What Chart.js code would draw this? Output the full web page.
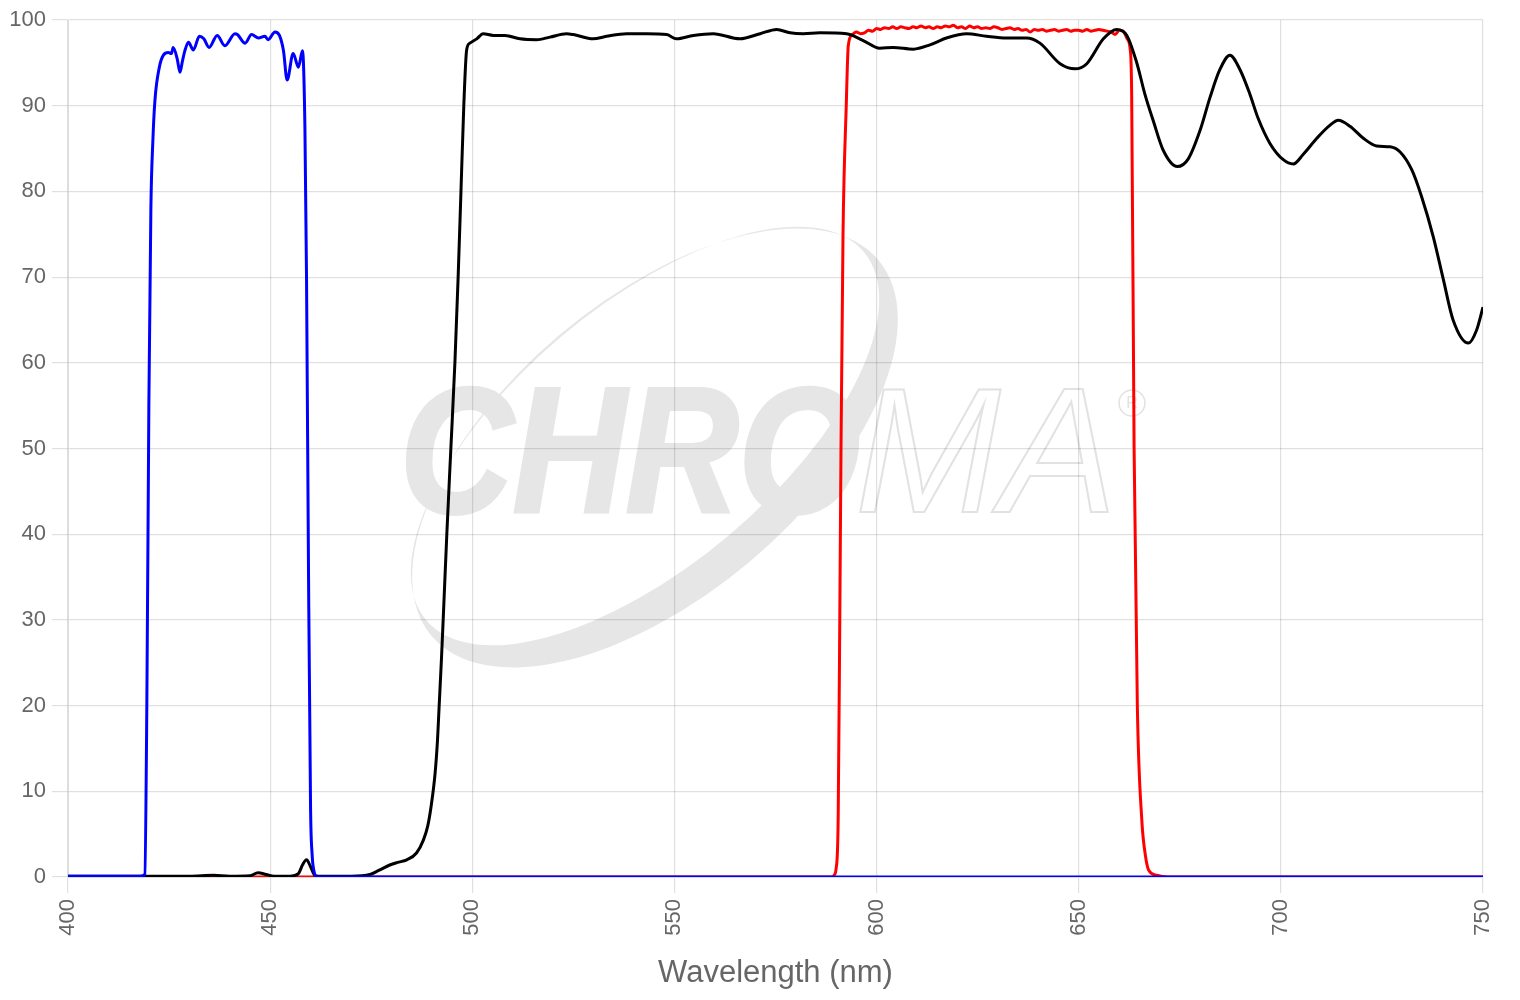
<!DOCTYPE html>
<html>
<head>
<meta charset="utf-8">
<script src="https://cdn.jsdelivr.net/npm/chart.js@4/dist/chart.umd.min.js"></script>
<style>
  html, body { margin: 0; padding: 0; background: #fff; }
  #wrap { width: 1520px; height: 1000px; position: relative; }
</style>
</head>
<body>
<div id="wrap"><canvas id="c" width="1520" height="1000"></canvas></div>
<script>
// ---- Data ----
const xTicks = [400, 450, 500, 550, 600, 650, 700, 750];
const yTicks = [0, 10, 20, 30, 40, 50, 60, 70, 80, 90, 100];

// Exciter (blue)
const blueNm = [400, 405, 410, 415, 418, 419, 419.5, 420, 420.5, 421, 421.5, 422.6, 423.6, 424.8, 425.6, 426.0, 427.0, 427.7, 428.3, 428.9, 429.8, 431.0, 432.5, 433.6, 434.9, 436.9, 438.8, 441.3, 441.9, 443.8, 445.4, 447.1, 448.7, 449.5, 451.2, 452.3, 453.3, 454.2, 455.7, 457.0, 458.0, 458.6, 459.0, 459.5, 460.0, 460.4, 460.8, 461.5, 470, 500, 550, 600, 650, 700, 750];
const blueT  = [0.1, 0.1, 0.1, 0.1, 0.1, 0.3, 20, 55, 78, 86, 90.6, 94.5, 95.9, 96.2, 96.1, 96.8, 95.5, 93.9, 95.2, 96.4, 97.4, 96.5, 98.1, 97.8, 96.8, 98.2, 97.0, 98.4, 98.3, 97.3, 98.3, 97.9, 98.1, 97.7, 98.6, 98.2, 96.4, 93.0, 96.1, 94.5, 96.4, 87.5, 70, 35, 8, 2.5, 0.8, 0, 0, 0, 0, 0, 0, 0, 0];

// Dichroic (black)
const blackNm = [400, 410, 420, 430, 436, 440, 445, 447, 449, 451, 455, 457, 458, 459, 460, 461, 462, 470, 474.7, 477, 479.6, 481.5, 483.8, 486.2, 487.9, 489, 489.8, 490.8, 491.4, 491.8, 492.4, 492.8, 493.7, 494.7, 495.7, 496.5, 497.2, 497.9, 498.6, 499.4, 501.1, 502.7, 505.2, 508.1, 511.8, 515.9, 519.2, 523.3, 525.0, 529.9, 533.2, 538.2, 543.1, 548.1, 550.5, 554.7, 559.6, 566.2, 571.2, 575.3, 578.6, 581.9, 586.0, 592.6, 596.7, 600.8, 604.1, 609.1, 613.2, 617.3, 622.3, 627.2, 632.2, 637.1, 640.4, 645.4, 649.1, 652.0, 656.1, 659.4, 661.9, 664.3, 666.4, 668.4, 670.9, 674.4, 677.1, 680.0, 682.5, 684.9, 687.4, 689.9, 692.3, 694.4, 697.3, 700.6, 703.1, 705.5, 708.9, 712.1, 714.2, 717.1, 720.4, 723.7, 727.0, 729.5, 732.4, 734.8, 737.7, 740.2, 742.6, 746.4, 748.4, 750];
const blackT  = [0.1, 0.1, 0.1, 0.1, 0.2, 0.1, 0.15, 0.5, 0.3, 0.1, 0.1, 0.4, 1.4, 2.0, 1.2, 0.2, 0.1, 0.1, 0.3, 0.8, 1.4, 1.7, 2.0, 2.8, 4.3, 6.0, 8.2, 12.1, 16.0, 19.9, 25.7, 30, 40, 50, 60, 70, 80, 90, 96.5, 97.3, 97.8, 98.4, 98.2, 98.2, 97.8, 97.7, 98.0, 98.4, 98.3, 97.8, 98.1, 98.4, 98.4, 98.3, 97.8, 98.2, 98.4, 97.8, 98.4, 98.9, 98.5, 98.4, 98.5, 98.4, 97.6, 96.7, 96.8, 96.6, 97.1, 97.9, 98.4, 98.1, 97.9, 97.9, 97.3, 94.9, 94.3, 94.9, 97.8, 98.9, 98.2, 95.1, 91.3, 88.3, 84.8, 82.9, 83.8, 87.1, 91.0, 94.2, 95.9, 94.2, 91.4, 88.5, 85.6, 83.7, 83.2, 84.3, 86.2, 87.7, 88.3, 87.6, 86.2, 85.3, 85.2, 84.6, 82.5, 79.4, 74.7, 69.7, 65.0, 62.3, 63.8, 66.5];

// Emitter (red)
const redNm = [400, 450, 500, 550, 589, 589.5, 590, 590.5, 590.9, 591.2, 591.7, 592.5, 593, 594, 595, 596, 597, 598, 599, 600, 601, 602, 603, 604, 605, 606, 607, 608, 609, 610, 611, 612, 613, 614, 615, 616, 617, 618, 619, 620, 621, 622, 623, 624, 625, 626, 627, 628, 629, 630, 631, 632, 633, 634, 635, 636, 637, 638, 639, 640, 641, 642, 643, 644, 645, 646, 647, 648, 649, 650, 651, 652, 653, 654, 655, 656, 657, 658, 659, 660, 661, 662, 662.7, 663.1, 663.7, 664.5, 665.6, 666.5, 667.3, 669.3, 672, 700, 750];
const redT  = [0, 0, 0, 0, 0, 0.2, 1, 6.7, 30, 50, 75, 90, 97, 98.3, 98.6, 98.4, 98.5, 98.8, 98.7, 99.0, 98.9, 99.1, 99.0, 99.2, 99.0, 99.2, 99.1, 99.0, 99.2, 99.1, 99.3, 99.1, 99.2, 99.0, 99.2, 99.1, 99.3, 99.2, 99.4, 99.1, 99.2, 99.0, 99.3, 99.1, 99.2, 99.0, 99.1, 99.0, 99.2, 99.1, 98.9, 99.0, 99.1, 98.9, 99.0, 98.8, 98.9, 98.6, 98.9, 98.8, 98.9, 98.7, 98.8, 98.9, 98.7, 98.8, 98.9, 98.7, 98.8, 98.8, 98.7, 98.9, 98.7, 98.8, 98.9, 98.8, 98.7, 98.6, 98.3, 98.8, 98.7, 97.8, 96.7, 91.3, 50, 20, 6.7, 2.5, 0.8, 0.2, 0, 0, 0];

const xTitle = 'Wavelength (nm)';

// ---- Build datasets ----
function pts(xs, ys) { return xs.map((x, i) => ({ x: x, y: ys[i] })); }

const watermark = {
  id: 'watermark',
  beforeDraw(chart) {
    const ctx = chart.ctx;
    ctx.save();
    // swoosh ring
    ctx.fillStyle = '#e6e6e6';
    ctx.beginPath();
    ctx.ellipse(655, 448, 292, 148, -0.70, 0, Math.PI * 2);
    ctx.ellipse(645, 436, 286, 130, -0.70, 0, Math.PI * 2);
    ctx.fill('evenodd');
    // text
    ctx.font = 'italic bold 178px "Liberation Sans", Arial, sans-serif';
    ctx.textBaseline = 'alphabetic';
    const w1 = ctx.measureText('CHRO').width;
    ctx.translate(400, 512);
    ctx.scale(460 / w1, 1);
    ctx.fillStyle = '#e6e6e6';
    ctx.fillText('CHRO', 0, 0);
    ctx.lineWidth = 4;
    ctx.strokeStyle = '#e6e6e6';
    ctx.strokeText('CHRO', 0, 0);
    ctx.restore();
    ctx.save();
    ctx.font = 'italic 178px "Liberation Sans", Arial, sans-serif';
    const w2 = ctx.measureText('MA').width;
    ctx.translate(855, 512);
    ctx.scale(262 / w2, 1);
    ctx.strokeStyle = '#e2e2e2';
    ctx.lineWidth = 2;
    ctx.strokeText('MA', 0, 0);
    ctx.restore();
    ctx.save();
    ctx.strokeStyle = '#e2e2e2';
    ctx.lineWidth = 1.5;
    ctx.beginPath();
    ctx.arc(1132, 403, 13, 0, Math.PI * 2);
    ctx.stroke();
    ctx.fillStyle = '#e2e2e2';
    ctx.font = '16px "Liberation Sans", Arial, sans-serif';
    ctx.textAlign = 'center';
    ctx.textBaseline = 'middle';
    ctx.fillText('R', 1132, 404);
    ctx.restore();
  }
};

const tickFont = { family: '"Liberation Sans", Arial, sans-serif', size: 22 };
const gridColor = 'rgba(0,0,0,0.12)';

new Chart(document.getElementById('c'), {
  type: 'line',
  data: {
    datasets: [
      { label: 'Exciter', data: pts(blueNm, blueT), borderColor: '#0000ff', borderWidth: 3, pointRadius: 0, cubicInterpolationMode: 'monotone', order: 1 },
      { label: 'Dichroic', data: pts(blackNm, blackT), borderColor: '#000000', borderWidth: 3, pointRadius: 0, cubicInterpolationMode: 'monotone', order: 2 },
      { label: 'Emitter', data: pts(redNm, redT), borderColor: '#ff0000', borderWidth: 3, pointRadius: 0, cubicInterpolationMode: 'monotone', order: 3 }
    ]
  },
  options: {
    responsive: false,
    animation: false,
    layout: { padding: { top: 20, right: 37, left: 0, bottom: 0 } },
    plugins: { legend: { display: false }, tooltip: { enabled: false } },
    scales: {
      x: {
        type: 'linear', min: 400, max: 750,
        afterBuildTicks: (s) => { s.ticks = xTicks.map(v => ({ value: v })); },
        afterFit: (s) => { s.height = 123; },
        ticks: { font: tickFont, color: '#666', maxRotation: 90, minRotation: 90, padding: 6 },
        grid: { color: gridColor, tickLength: 16, lineWidth: 1.2 },
        border: { color: gridColor },
        title: { display: true, text: xTitle, color: '#666', font: { family: '"Liberation Sans", Arial, sans-serif', size: 31 }, padding: { top: 0, bottom: 8 } }
      },
      y: {
        type: 'linear', min: 0, max: 100,
        afterBuildTicks: (s) => { s.ticks = yTicks.map(v => ({ value: v })); },
        afterFit: (s) => { s.width = 68; },
        ticks: { font: tickFont, color: '#666', padding: 6 },
        grid: { color: gridColor, tickLength: 16, lineWidth: 1.2 },
        border: { color: gridColor }
      }
    }
  },
  plugins: [watermark]
});
</script>
</body>
</html>
